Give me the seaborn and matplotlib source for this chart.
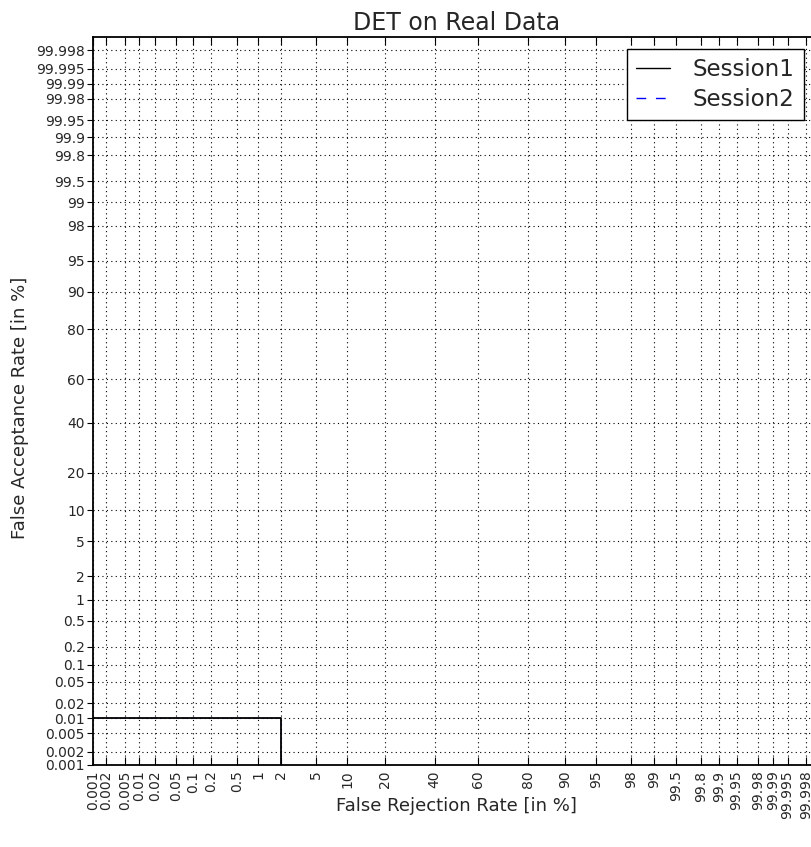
import numpy as np
import pandas as pd
import matplotlib
matplotlib.use("Agg")
import matplotlib.pyplot as plt
import seaborn as sns
from statistics import NormalDist

# ---- data ----
tick_values = [0.001, 0.002, 0.005, 0.01, 0.02, 0.05, 0.1, 0.2, 0.5, 1, 2, 5, 10, 20,
               40, 60, 80, 90, 95, 98, 99, 99.5, 99.8, 99.9, 99.95, 99.98, 99.99,
               99.995, 99.998]
tick_labels = ["0.001", "0.002", "0.005", "0.01", "0.02", "0.05", "0.1", "0.2", "0.5",
               "1", "2", "5", "10", "20", "40", "60", "80", "90", "95", "98", "99",
               "99.5", "99.8", "99.9", "99.95", "99.98", "99.99", "99.995", "99.998"]
session1_frr = [0.0001, 2.0, 2.0]
session1_far = [0.01, 0.01, 0.0001]
session2_frr = [0.0001, 2.0, 2.0]
session2_far = [0.01, 0.01, 0.0001]
limits = [0.001, 99.999]

_nd = NormalDist()
_ppf = np.vectorize(_nd.inv_cdf, otypes=[float])
_cdf = np.vectorize(_nd.cdf, otypes=[float])


def fwd(p):
    p = np.clip(np.asarray(p, dtype=float) / 100.0, 1e-12, 1 - 1e-12)
    return _ppf(p)


def inv(z):
    z = np.asarray(z, dtype=float)
    return _cdf(z) * 100.0


sns.set_style("white")
plt.rcParams["font.family"] = ["DejaVu Sans"]

fig = plt.figure(figsize=(8.11, 8.47), dpi=100)
ax = fig.add_axes([93 / 811, 1 - 765 / 847, (819.5 - 93) / 811, (765 - 37) / 847])

ax.set_xscale("function", functions=(fwd, inv))
ax.set_yscale("function", functions=(fwd, inv))

df1 = pd.DataFrame({"FRR": session1_frr, "FAR": session1_far})
df2 = pd.DataFrame({"FRR": session2_frr, "FAR": session2_far})

sns.lineplot(data=df2, x="FRR", y="FAR", ax=ax, sort=False, estimator=None,
             color="blue", linestyle=(0, (7, 7)), linewidth=0.4, label="Session2", zorder=2)
sns.lineplot(data=df1, x="FRR", y="FAR", ax=ax, sort=False, estimator=None,
             color="black", linestyle="-", linewidth=1.3, label="Session1", zorder=3)

ax.set_xlim(limits[0], limits[1])
ax.set_ylim(limits[0], limits[1])

ax.set_xticks(tick_values)
ax.set_xticklabels(tick_labels, rotation=90, fontsize=10)
ax.set_yticks(tick_values)
ax.set_yticklabels(tick_labels, fontsize=10)
ax.minorticks_off()

ax.tick_params(axis="x", direction="in", length=6, width=0.8, top=True, bottom=True,
               color="black", pad=4)
ax.tick_params(axis="y", direction="out", length=4, width=0.8, left=True, right=True,
               color="black", pad=2)

ax.grid(True, color="black", linestyle=(0, (1, 3)), linewidth=0.8)
for s in ax.spines.values():
    s.set_visible(True)
    s.set_color("black")
    s.set_linewidth(1.3)

ax.set_title("DET on Real Data", fontsize=17, pad=5)
ax.set_xlabel("False Rejection Rate [in %]", fontsize=13)
ax.set_ylabel("False Acceptance Rate [in %]", fontsize=13)
ax.xaxis.set_label_coords(0.5, -(797 - 765) / 728)
ax.yaxis.set_label_coords(-(93 - 29) / 726.5, 0.49)

handles, labels = ax.get_legend_handles_labels()
order = [labels.index("Session1"), labels.index("Session2")]
leg = ax.legend([handles[i] for i in order], [labels[i] for i in order],
                loc="upper right", bbox_to_anchor=(804 / 811, 1 - 49 / 847),
                bbox_transform=fig.transFigure, fontsize=16.5, frameon=True,
                fancybox=False, framealpha=1, edgecolor="black", borderpad=0.4,
                labelspacing=0.3, handlelength=1.5, handletextpad=1.0, borderaxespad=0)
leg.get_frame().set_linewidth(1.0)
leg_lines = leg.get_lines()
leg_lines[0].set_linewidth(1.0)
leg_lines[1].set_linewidth(1.0)
leg_lines[1].set_linestyle((0, (7, 7)))

fig.savefig("out.png", dpi=100)
